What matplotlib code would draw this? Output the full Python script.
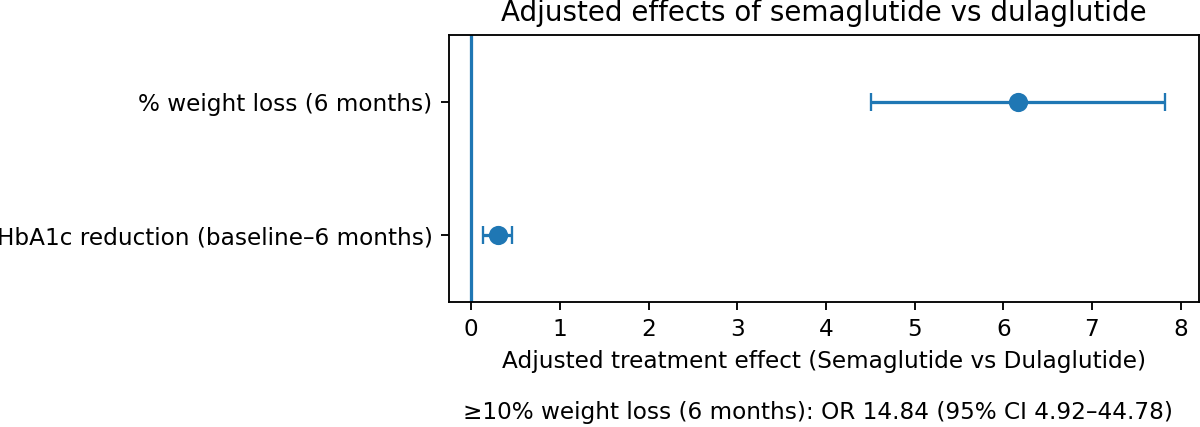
import matplotlib.pyplot as plt
import numpy as np

# outcomes, bottom to top
labels = ["HbA1c reduction (baseline–6 months)", "% weight loss (6 months)"]
effect = np.array([0.297, 6.17])
ci_low = np.array([0.131, 4.51])
ci_high = np.array([0.455, 7.82])
note = "≥10% weight loss (6 months): OR 14.84 (95% CI 4.92–44.78)"

dpi = 166.67
fig = plt.figure(figsize=(1200 / dpi, 427 / dpi), dpi=dpi)
ax = fig.add_axes([0.374, 0.2935, 0.625, 0.6245])

ypos = np.arange(len(labels))
err = [effect - ci_low, ci_high - effect]
ax.errorbar(effect, ypos, xerr=err, fmt='o', color='C0', capsize=4, markersize=7.3,
            elinewidth=1.4)
ax.axvline(0, color='C0', linewidth=1.4)

ax.set_yticks(ypos)
ax.set_yticklabels(labels)
ax.set_ylim(-0.5, 1.5)
ax.set_xlabel("Adjusted treatment effect (Semaglutide vs Dulaglutide)")
ax.set_title("Adjusted effects of semaglutide vs dulaglutide")

fig.text(0.682, 0.033, note, ha='center', va='center', fontsize=10)

fig.savefig("out.png", dpi=dpi)
